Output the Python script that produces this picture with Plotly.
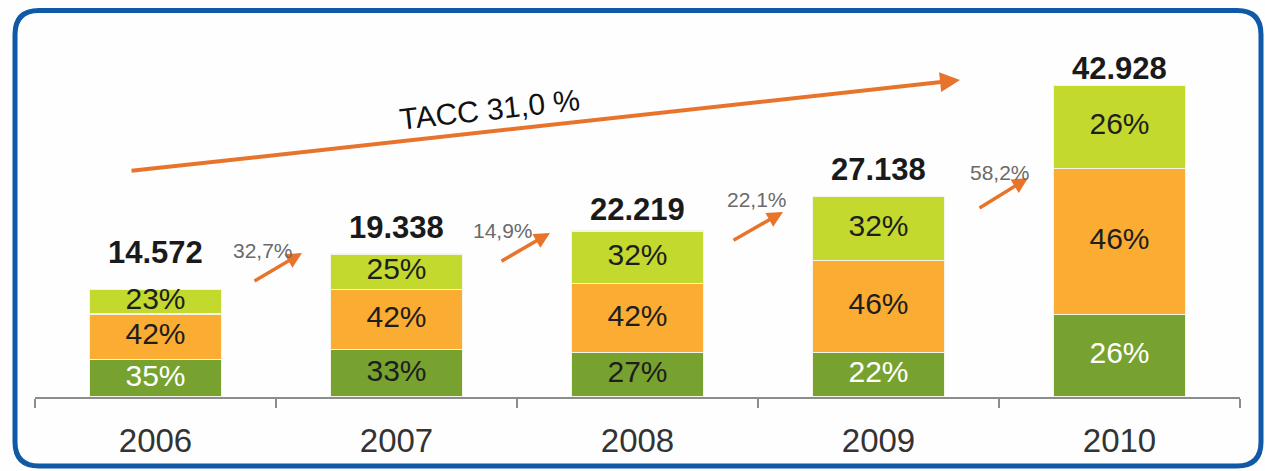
import plotly.graph_objects as go

# ---------------- data ----------------
years = ["2006", "2007", "2008", "2009", "2010"]
totals = [14572, 19338, 22219, 27138, 42928]
pct_bottom = [35, 33, 27, 22, 26]   # dark green
pct_middle = [42, 42, 42, 46, 46]   # orange
pct_top = [23, 25, 32, 32, 26]      # light green
growth_labels = ["32,7%", "14,9%", "22,1%", "58,2%"]
cagr_label = "TACC 31,0 %"

# ---------------- styling ----------------
W, H = 1265, 471
ML, MR, MT, MB = 35, 25, 20, 74
PX_PER_UNIT = 0.0074
PLOT_H = H - MT - MB
PLOT_W = W - ML - MR
YMAX = PLOT_H / PX_PER_UNIT
BASE_PX = H - MB
CAT_W = PLOT_W / len(years)
TOTAL_LABEL_SHIFT = [37, 26, 21, 27, 17]   # px above stack top

C_DARK = "#77a22f"
C_ORANGE = "#fbac33"
C_LIGHT = "#c3d92e"
C_ARROW = "#e8732a"
C_BORDER = "#0f59a7"
FONT = "Liberation Sans, Arial, sans-serif"


def xd(px):
    return (px - ML) / CAT_W - 0.5


def yd(py):
    return (BASE_PX - py) / PX_PER_UNIT


def xp(px):
    return (px - ML) / PLOT_W


def yp(py):
    return (BASE_PX - py) / PLOT_H


x_idx = list(range(len(years)))
seg_b = [t * p / 100 for t, p in zip(totals, pct_bottom)]
seg_m = [t * p / 100 for t, p in zip(totals, pct_middle)]
seg_t = [t * p / 100 for t, p in zip(totals, pct_top)]
stack_top = [a + b + c for a, b, c in zip(seg_b, seg_m, seg_t)]

fig = go.Figure()
for vals, col in [(seg_b, C_DARK), (seg_m, C_ORANGE), (seg_t, C_LIGHT)]:
    fig.add_trace(go.Bar(
        x=x_idx, y=vals, width=0.55,
        marker=dict(color=col, line=dict(color="#f4f4e8", width=1.2)),
        hoverinfo="skip", showlegend=False,
    ))

# percentage labels at segment midpoints
mid_b = [v / 2 for v in seg_b]
mid_m = [b + m / 2 for b, m in zip(seg_b, seg_m)]
mid_t = [b + m + t / 2 for b, m, t in zip(seg_b, seg_m, seg_t)]
bottom_text_colors = ["#ffffff", "#1e1e1e", "#1e1e1e", "#ffffff", "#ffffff"]
for mids, pcts, cols in [
    (mid_b, pct_bottom, bottom_text_colors),
    (mid_m, pct_middle, ["#1e1e1e"] * 5),
    (mid_t, pct_top, ["#1e1e1e"] * 5),
]:
    fig.add_trace(go.Scatter(
        x=x_idx, y=mids, mode="text",
        text=[f"{p}%" for p in pcts],
        textposition="middle center",
        textfont=dict(family=FONT, size=30, color=cols),
        hoverinfo="skip", showlegend=False,
    ))

annotations = []
# totals above bars
for i, (t, top) in enumerate(zip(totals, stack_top)):
    annotations.append(dict(
        x=i, y=top, xref="x", yref="y", yanchor="middle",
        yshift=TOTAL_LABEL_SHIFT[i],
        text=f"<b>{t:,}</b>".replace(",", "."), showarrow=False,
        font=dict(family=FONT, size=31, color="#1a1a1a"),
    ))

# small growth arrows between bars (tail px, tip px, label px)
small_arrows = [
    ((253, 282), (302, 253), (263, 250)),
    ((500, 262), (550, 233), (503, 230)),
    ((732, 241), (783, 212), (757, 199)),
    ((978, 209), (1028, 178), (1000, 172)),
]
for (tail, tip, lab), txt in zip(small_arrows, growth_labels):
    annotations.append(dict(
        x=xd(tip[0]), y=yd(tip[1]), xref="x", yref="y",
        ax=tail[0] - tip[0], ay=tail[1] - tip[1],
        showarrow=True, arrowhead=2, arrowsize=0.9, arrowwidth=3.5,
        arrowcolor=C_ARROW, text="",
    ))
    annotations.append(dict(
        x=xd(lab[0]), y=yd(lab[1]), xref="x", yref="y",
        text=txt, showarrow=False,
        font=dict(family=FONT, size=21, color="#6a6a6a"),
    ))

# CAGR arrow
annotations.append(dict(
    x=xd(960), y=yd(80), xref="x", yref="y",
    ax=130 - 960, ay=171 - 80,
    showarrow=True, arrowhead=2, arrowsize=1.0, arrowwidth=4,
    arrowcolor=C_ARROW, text="",
))
annotations.append(dict(
    x=xd(489), y=yd(109), xref="x", yref="y",
    text=cagr_label, showarrow=False, textangle=-6.3,
    font=dict(family=FONT, size=30, color="#111111"),
))

# rounded blue frame
L, R, T, B, r = 15, 1261, 10.5, 466, 24
path = (
    f"M {xp(L + r)} {yp(T)} L {xp(R - r)} {yp(T)} "
    f"Q {xp(R)} {yp(T)} {xp(R)} {yp(T + r)} "
    f"L {xp(R)} {yp(B - r)} Q {xp(R)} {yp(B)} {xp(R - r)} {yp(B)} "
    f"L {xp(L + r)} {yp(B)} Q {xp(L)} {yp(B)} {xp(L)} {yp(B - r)} "
    f"L {xp(L)} {yp(T + r)} Q {xp(L)} {yp(T)} {xp(L + r)} {yp(T)} Z"
)
shapes = [dict(type="path", path=path, xref="paper", yref="paper",
               line=dict(color=C_BORDER, width=5), layer="below")]

fig.update_layout(
    width=W, height=H,
    margin=dict(l=ML, r=MR, t=MT, b=MB),
    paper_bgcolor="#fefefe", plot_bgcolor="#fefefe",
    barmode="stack",
    annotations=annotations, shapes=shapes,
    xaxis=dict(
        range=[-0.5, len(years) - 0.5],
        tickmode="array", tickvals=x_idx, ticktext=years,
        showgrid=False, zeroline=False,
        showline=True, linecolor="#8c8c8c", linewidth=1.5,
        ticks="",
        tickfont=dict(family=FONT, size=33, color="#333333"),
        ticklabelstandoff=14,
        fixedrange=True,
        minor=dict(
            tickmode="array",
            tickvals=[i - 0.5 for i in range(len(years) + 1)],
            ticks="outside", ticklen=9, tickcolor="#8c8c8c", tickwidth=1.5,
        ),
    ),
    yaxis=dict(range=[0, YMAX], visible=False, fixedrange=True),
    font=dict(family=FONT),
)

fig.write_html(
    "out.html",
    config={"displayModeBar": False},
    post_script="document.body.style.margin='0';document.body.style.overflow='hidden';",
)
